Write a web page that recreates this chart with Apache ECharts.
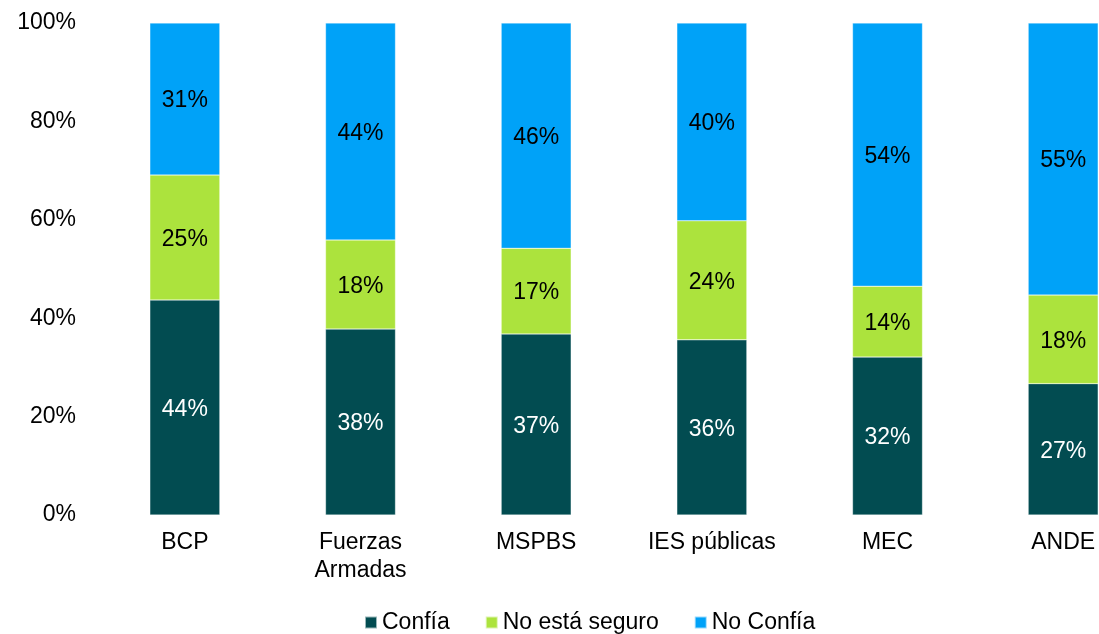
<!DOCTYPE html>
<html>
<head>
<meta charset="utf-8">
<script src="https://cdn.jsdelivr.net/npm/echarts@6/dist/echarts.min.js"></script>
<style>html,body{margin:0;padding:0;background:#fff}#c{width:1099px;height:634px}</style>
</head>
<body>
<div id="c"></div>
<script>
const categories = ['BCP', 'Fuerzas\nArmadas', 'MSPBS', 'IES públicas', 'MEC', 'ANDE'];
const confia = [43.7, 37.8, 36.8, 35.6, 32.1, 26.7];
const noSeguro = [25.4, 18.1, 17.4, 24.2, 14.4, 18.0];
const noConfia = [30.9, 44.1, 45.8, 40.2, 53.5, 55.3];
const seriesNames = ['Confía', 'No está seguro', 'No Confía'];
const yTicks = [0, 20, 40, 60, 80, 100];
const colors = ['#024C51', '#ACE33D', '#00A2F8'];
const labelColors = ['#ffffff', '#000000', '#000000'];

const font = 'Liberation Sans, Arial, sans-serif';
const chart = echarts.init(document.getElementById('c'), null, {renderer: 'canvas'});
const dataSets = [confia, noSeguro, noConfia];
chart.setOption({
  animation: false,
  color: colors,
  grid: {left: 97, top: 23, width: 1054, bottom: 119, containLabel: false, outerBoundsMode: 'none'},
  legend: {
    top: 611, left: 364, padding: 0,
    itemWidth: 12, itemHeight: 12, itemGap: 35, icon: 'rect',
    textStyle: {fontFamily: font, fontSize: 23, color: '#000'},
    data: seriesNames
  },
  xAxis: {
    type: 'category', data: categories,
    axisLine: {show: false}, axisTick: {show: false},
    axisLabel: {fontFamily: font, fontSize: 23, color: '#000', margin: 14, lineHeight: 28, interval: 0}
  },
  yAxis: {
    type: 'value', min: yTicks[0], max: yTicks[yTicks.length - 1], interval: yTicks[1] - yTicks[0],
    axisLine: {show: false}, axisTick: {show: false}, splitLine: {show: false},
    axisLabel: {fontFamily: font, fontSize: 23, color: '#000', margin: 21, formatter: '{value}%'}
  },
  series: dataSets.map((d, i) => ({
    name: seriesNames[i], type: 'bar', stack: 'total', barWidth: 70,
    data: d,
    itemStyle: {color: colors[i], borderColor: 'rgba(255,255,255,0.6)', borderWidth: 0.5},
    label: {show: true, position: 'inside', offset: [0, 2], formatter: p => Math.round(p.value) + '%', fontFamily: font, fontSize: 23, color: labelColors[i]}
  }))
});
</script>
</body>
</html>
